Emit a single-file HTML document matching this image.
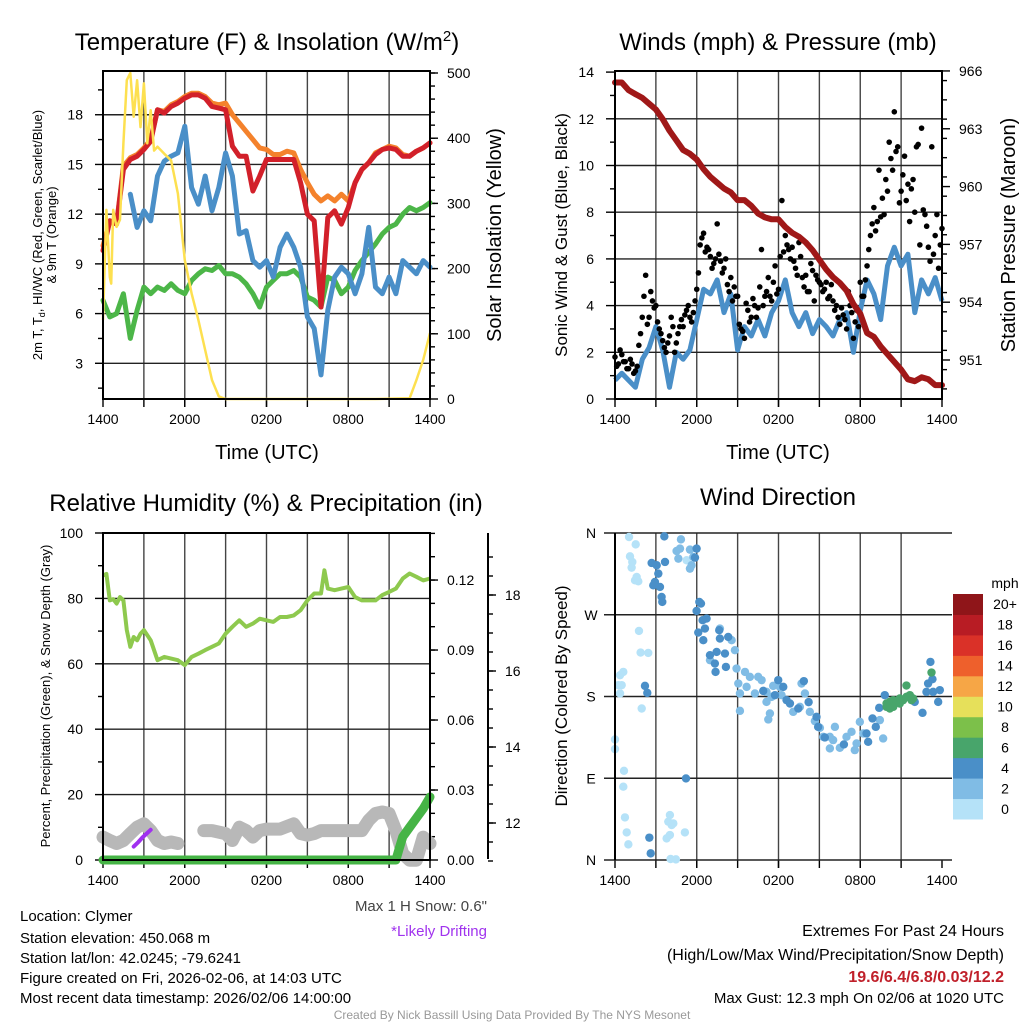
<!DOCTYPE html>
<html><head><meta charset="utf-8"><style>
html,body{margin:0;padding:0;background:#fff}
svg{display:block;font-family:"Liberation Sans",Arial,sans-serif}
</style></head><body>
<svg id="fig" width="1024" height="1024" viewBox="0 0 1024 1024" xmlns="http://www.w3.org/2000/svg">
<rect width="1024" height="1024" fill="#fff"/>
<text x="267" y="50" font-size="24" text-anchor="middle">Temperature (F) &amp; Insolation (W/m<tspan dy="-9" font-size="15">2</tspan><tspan dy="9">)</tspan></text>
<text x="778" y="50" font-size="24" text-anchor="middle">Winds (mph) &amp; Pressure (mb)</text>
<text x="266" y="511" font-size="24" text-anchor="middle">Relative Humidity (%) &amp; Precipitation (in)</text>
<text x="778" y="505" font-size="24" text-anchor="middle">Wind Direction</text>

<text transform="translate(42,235) rotate(-90)" font-size="13" text-anchor="middle">2m T, T<tspan font-size="9" dy="3">d</tspan><tspan dy="-3">, HI/WC (Red, Green, Scarlet/Blue)</tspan></text>
<text transform="translate(56,235) rotate(-90)" font-size="13" text-anchor="middle">&amp; 9m T (Orange)</text>
<text transform="translate(501,235) rotate(-90)" font-size="20" text-anchor="middle">Solar Insolation (Yellow)</text>
<text x="267" y="459" font-size="20" text-anchor="middle">Time (UTC)</text>
<text transform="translate(567,235) rotate(-90)" font-size="17" text-anchor="middle">Sonic Wind &amp; Gust (Blue, Black)</text>
<text transform="translate(1015,235) rotate(-90)" font-size="20" text-anchor="middle">Station Pressure (Maroon)</text>
<text x="778" y="459" font-size="20" text-anchor="middle">Time (UTC)</text>
<text transform="translate(50,696) rotate(-90)" font-size="13" text-anchor="middle">Percent, Precipitation (Green), &amp; Snow Depth (Gray)</text>
<text transform="translate(567,696) rotate(-90)" font-size="17" text-anchor="middle">Direction (Colored By Speed)</text>
<text x="1005" y="588" font-size="14" text-anchor="middle">mph</text>

<g font-size="15">
<text x="20" y="921">Location: Clymer</text>
<text x="20" y="943">Station elevation: 450.068 m</text>
<text x="20" y="963">Station lat/lon: 42.0245; -79.6241</text>
<text x="20" y="983">Figure created on Fri, 2026-02-06, at 14:03 UTC</text>
<text x="20" y="1003">Most recent data timestamp: 2026/02/06 14:00:00</text>
</g>
<text x="487" y="911" font-size="15" text-anchor="end" fill="#444">Max 1 H Snow: 0.6"</text>
<text x="487" y="936" font-size="15" text-anchor="end" fill="#a033ee">*Likely Drifting</text>
<text x="1004" y="936" font-size="16" text-anchor="end">Extremes For Past 24 Hours</text>
<text x="1004" y="960" font-size="16" text-anchor="end">(High/Low/Max Wind/Precipitation/Snow Depth)</text>
<text x="1004" y="982" font-size="16" text-anchor="end" font-weight="bold" fill="#c0202a">19.6/6.4/6.8/0.03/12.2</text>
<text x="1004" y="1003" font-size="15" text-anchor="end">Max Gust: 12.3 mph On 02/06 at 1020 UTC</text>
<text x="512" y="1019" font-size="12" text-anchor="middle" fill="#999">Created By Nick Bassill Using Data Provided By The NYS Mesonet</text>
</svg>
<script>
const timeLabels = ['1400','2000','0200','0800','1400'];
const hours = [0,0.5,1,1.5,2,2.5,3,3.5,4,4.5,5,5.5,6,6.5,7,7.5,8,8.5,9,9.5,10,10.5,11,11.5,12,12.5,13,13.5,14,14.5,15,15.5,16,16.5,17,17.5,18,18.5,19,19.5,20,20.5,21,21.5,22,22.5,23,23.5,24];
const temp2m = [9.8,11.6,11.4,14.7,15.3,15.5,15.9,16.4,18.3,18.1,18.5,18.7,19.0,19.2,19.2,19.0,18.5,18.4,18.3,16.1,15.5,15.5,13.4,14.3,15.3,15.3,15.3,15.3,15.3,13.9,12.0,11.6,6.4,11.8,12.2,11.4,12.4,13.9,14.7,15.1,15.6,15.9,16.0,15.9,15.5,15.5,15.8,16.0,16.3];
const temp9m = [10.1,11.6,11.4,14.9,15.4,15.6,16.0,16.5,18.3,18.2,18.6,18.8,19.1,19.3,19.3,19.1,18.7,18.6,18.7,18.0,17.5,17.0,16.5,16.0,15.9,15.6,15.6,15.8,15.7,14.7,13.9,13.2,12.8,13.1,12.8,13.2,12.8,13.9,14.7,15.1,15.7,15.9,16.1,16.0,15.6,15.5,15.8,16.0,16.3];
const windChill = [null,null,null,null,13.2,11.2,12.2,11.6,14.3,15.2,15.5,15.7,17.3,13.6,12.6,14.3,12.2,13.6,15.7,14.3,10.8,11.0,9.2,8.8,9.2,8.2,10.0,10.8,10.0,8.8,5.8,5.1,2.3,6.2,8.2,8.8,8.4,7.2,8.4,11.2,7.6,7.2,8.2,7.2,9.2,8.8,8.4,9.2,8.8];
const dewpoint = [6.8,5.8,6.0,7.2,4.5,6.2,7.6,7.2,7.6,7.4,7.8,7.4,7.2,8.0,8.4,8.7,8.6,8.9,8.4,8.4,8.2,7.8,7.2,6.4,7.6,8.0,8.4,8.4,8.6,8.2,7.0,6.8,6.4,8.2,8.0,7.2,7.6,8.6,9.2,9.7,10.2,10.8,11.2,11.4,12.0,12.4,12.2,12.4,12.7];
const solarT = [0,0.25,0.5,0.6,0.75,1,1.25,1.5,1.75,2,2.25,2.5,2.75,3,3.25,3.5,3.75,4,4.5,5,5.5,6,6.5,7,7.5,8,8.5,9,12,16,20,22.5,23,23.5,24];
const solarV = [121,290,187,177,290,264,275,392,489,500,433,489,417,484,392,443,381,387,376,366,315,213,162,121,75,29,4,0,0,0,0,1,29,60,101];
const tempTicks = [3,6,9,12,15,18];
const solarTicks = [0,100,200,300,400,500];

const pressure = [965.4,965.4,965.0,964.8,964.6,964.3,964.0,963.5,962.9,962.4,961.9,961.7,961.4,960.9,960.5,960.2,959.9,959.7,959.3,959.3,959.0,958.6,958.4,958.3,958.3,957.9,957.6,957.4,957.1,956.7,956.2,955.7,955.3,955.0,954.6,953.9,953.4,952.4,952.2,951.7,951.3,950.9,950.5,950.0,949.9,950.1,950.0,949.7,949.7];
const sonicWind = [0.8,1.1,0.8,0.5,1.7,2.2,3.1,2.1,0.5,2.0,1.7,2.1,3.4,4.7,4.5,5.1,3.7,4.5,2.1,3.1,2.7,3.4,2.7,3.7,4.2,5.1,3.7,3.1,3.7,2.8,3.4,3.1,2.7,3.4,3.7,2.0,3.8,5.1,4.5,3.4,5.7,6.5,5.7,6.2,3.7,5.1,4.5,5.2,4.2];
const gustA = [1.8,1.5,1.9,1.6,1.3,1.5,1.2,2.3,3.5,5.3,3.5,4.2,4.0,3.0,2.5,2.0,2.7,3.1,2.4,3.1,3.1,3.8,3.5,3.7,4.7,6.6,7.1,6.5,6.1,5.8,7.5,5.9,5.6,4.9,5.2,4.8,4.4,3.0,2.6,3.8,3.5,4.0,3.9,6.4,4.4,5.2,4.2,5.7,4.7,8.5,7.0,6.4,6.5,5.6,6.7,5.2,5.3,4.6,5.5,5.3,5.0,4.6,5.0,4.4,4.2,4.0,3.2,3.6,3.0,4.0,2.6,3.8,5.0,4.4,5.7,7.0,8.2,7.6,7.8,7.9,8.9,10.3,12.3,10.8,8.9,10.4,9.2,9.0,8.0,10.9,11.6,7.9,6.5,10.8,7.0,5.6,7.3];
const gustB = [1.4,2.1,1.6,1.3,1.7,1.1,1.4,2.8,4.4,3.2,4.6,3.9,3.3,2.8,2.2,2.4,3.5,2.0,2.8,3.4,3.6,4.0,3.3,4.2,5.4,6.9,6.3,6.4,5.6,6.0,6.2,5.4,6.0,4.6,4.2,4.4,3.2,2.9,4.1,3.3,4.3,3.5,4.8,4.0,4.6,4.4,5.0,4.5,6.1,6.3,6.6,6.0,5.9,5.3,6.1,4.8,4.6,5.8,4.2,5.1,4.9,4.7,4.3,4.9,3.8,3.5,3.9,3.4,4.6,3.7,3.3,3.1,4.4,5.1,6.4,7.5,7.2,9.8,8.6,9.4,11.0,9.8,10.6,8.4,9.6,8.5,7.6,9.4,10.8,6.6,8.1,7.4,5.9,6.2,7.9,6.6];
const windTicks = [0,2,4,6,8,10,12,14];
const pressTicks = [951,954,957,960,963,966];

const rhT = [0,0.25,0.5,0.75,1,1.25,1.5,1.75,2,2.25,2.5,2.75,3,3.5,4,4.5,5,5.5,6,6.5,7,7.5,8,8.5,9,9.5,10,10.5,11,11.5,12,12.5,13,13.5,14,14.5,15,15.5,16,16.25,16.5,17,17.5,18,18.5,19,19.5,20,20.5,21,21.5,22,22.5,23,23.5,24];
const rhV = [87.0,87.5,79.4,79.8,78.4,80.4,79.4,70.3,65.2,68.2,67.2,69.2,70.3,67.2,61.1,62.1,61.6,61.1,59.6,62.1,63.1,64.2,65.2,66.2,69.2,71.3,73.3,71.3,72.3,73.8,73.3,72.8,74.3,74.3,74.8,76.4,79.4,81.5,81.5,88.6,83.0,82.5,83.0,83.5,80.4,79.4,79.4,79.4,81.0,82.0,83.0,86.1,87.6,86.6,85.5,86.1];
const precipT = [0,21.5,21.75,22,22.5,23,23.5,24];
const precipV = [0,0,0.005,0.01,0.014,0.018,0.022,0.027];
const snowT = [0,0.5,1,1.5,2,2.5,3,3.5,4,4.5,5,5.5,5.7,7.4,8,9,9.5,10,10.5,11,11.5,12,13,14,14.5,15,15.5,16,17,18,19,19.5,20,20.5,21,21.5,22,22.5,23,23.5,24];
const snowV = [11.63,11.54,11.46,11.54,11.72,11.89,11.98,11.8,11.54,11.46,11.5,11.46,null,11.8,11.8,11.72,11.54,11.89,11.8,11.63,11.8,11.84,11.84,11.98,11.72,11.68,11.72,11.8,11.8,11.8,11.8,12.07,12.25,12.29,12.25,11.8,11.19,11.02,11.02,11.63,11.46];
const driftT = [2.25,2.6,2.9,3.2,3.5];
const driftV = [11.38,11.5,11.62,11.72,11.82];
const rhTicks = [0,20,40,60,80,100];
const precipTicks = ['0.00','0.03','0.06','0.09','0.12'];
const snowTicks = [12,14,16,18];

const windT = [1.03,1.52,1.10,1.27,1.22,1.59,1.47,1.71,1.76,1.88,2.44,0.61,0.37,0.24,0.49,0.37,1.96,0,0,0.66,0.61,0.73,0.86,0.98,4.03,3.91,4.28,4.16,4.03,3.79,5.13,4.08,4.47,5.26,
4.84,4.77,5.50,4.65,5.62,5.75,5.50,4.52,6.97,7.70,8.56,8.80,8.92,9.05,9.17,9.54,9.90,9.66,10.27,10.51,10.76,11.12,11.12,11.37,11.25,11.61,11.49,12.10,12.22,13.08,13.57,13.69,13.94,14.30,14.67,15.04,15.28,15.77,16.14,16.01,16.50,16.99,17.36,17.73,17.60,17.97,18.22,19.68,19.44,15.77,9.17,
3.62,2.69,3.06,3.67,3.18,2.93,2.81,3.30,3.42,3.47,5.99,5.87,6.19,6.31,5.99,6.43,6.72,6.60,6.11,6.48,7.65,7.70,8.31,6.97,7.46,7.33,8.07,8.14,7.38,2.52,2.62,2.20,2.37,5.21,10.88,11.98,12.35,11.74,12.59,12.84,13.45,13.86,14.21,14.79,14.91,15.40,16.80,18.46,18.58,18.90,19.14,19.39,19.80,23.15,22.98,23.30,22.86,23.35,23.84,23.72,22.57,22.00,
19.93,20.17,20.42,20.66,20.90,21.15,21.39,21.64,21.88,20.42,19.93,21.39,23.23,20.90,20.17,21.76];
const windD = [355.6,347.5,334.3,328.1,321.9,311.6,307.9,306.8,252.2,228.4,228.0,207.1,203.5,192.5,192.5,183.3,166.8,132.7,122.1,98.2,80.7,46.9,30.4,17.2,49.5,42.2,40.3,38.5,27.5,23.8,30.4,1.1,0.7,330,
353,342.8,341.7,331.8,324.5,333.6,320.8,340.2,220,254.8,242,231,210.8,194.3,183.3,207.1,201.6,190.6,183.3,201.6,198,185.1,174.1,161.3,154.7,191.7,179.6,190.6,181.5,163.1,168.6,194.3,183.3,163.1,152.9,145.5,135.6,135.6,146.6,132,123.5,135.6,141.1,128.3,121,152.1,139.3,133.8,154,122.8,164.2,
356.3,327,324.5,328.1,315.3,306.1,302.4,300.6,289.6,284.1,342.8,332.9,284.1,282.3,274.2,264,265.8,254.8,250.4,242,253,243.8,245.6,225.5,229.1,216.3,227.3,212.6,207.1,24.6,7.3,191.7,184,89.8,186.2,198,190.6,181.5,176,172.3,166.8,196.9,173.8,157.6,146.6,134.9,127.2,139.3,130.1,155.8,146.6,167.5,181.5,218.1,194.3,199.1,185.1,185.1,187,174.1,162,174.1,
168.6,174.1,176,174.1,177.8,176,179.6,181.5,177.8,168.6,172.3,192.1,206.4,172.3,166.8,176];
const dirLabels = ['N','E','S','W','N'];
const speedLabels = ['0','2','4','6','8','10','12','14','16','18','20+'];
const speedColors = ['#b5e2f8','#80bce5','#4a8fc8','#48a56b','#7cc04a','#e6e05a','#f6a646','#ee602c','#da3128','#b81c24','#8f1519'];

const windS = [];
for (let i = 0; i < windT.length; i++) { windS.push(i < 34 ? 1 : i < 85 ? 3 : i < 147 ? 5 : 7); }

const svg = document.getElementById('fig');
const NS = 'http://www.w3.org/2000/svg';
function mk(tag, attrs, parent) {
  const e = document.createElementNS(NS, tag);
  for (const k in attrs) e.setAttribute(k, attrs[k]);
  (parent || svg).appendChild(e);
  return e;
}
function pathD(xs, ys, fx, fy) {
  let d = '', pen = false;
  for (let i = 0; i < xs.length; i++) {
    if (ys[i] === null || ys[i] === undefined) { pen = false; continue; }
    d += (pen ? 'L' : 'M') + fx(xs[i]).toFixed(1) + ',' + fy(ys[i]).toFixed(1);
    pen = true;
  }
  return d;
}

const xA = h => 103 + h * (327 / 24);
const xB = h => 615 + h * (327 / 24);
const yT = v => 413 - v * 16.57;
const yS = w => 399 - w * 0.652;
const yW = v => 399 - v * 23.35;
const yP = p => 360 - (p - 951) * 19.27;
const yRH = v => 860 - v * 3.27;
const yPr = p => 860 - p * 2333;
const ySn = s => 823 - (s - 12) * 38;
const yD = d => 860 - d * 0.9083;

function frame(x0, x1, y0, y1, name) {
  const g = mk('g', {});
  
  
  for (let k = 1; k < 8; k++) {
    const x = x0 + k * (x1 - x0) / 8;
    const l = mk('line', {x1: x, x2: x, y1: y0, y2: y1, stroke: '#444', 'stroke-width': 1.4}, g);
    
    
    const t = mk('line', {x1: x, x2: x, y1: y1, y2: y1 + 8, stroke: '#000', 'stroke-width': 1.4}, g);
    
    
  }
  for (let k = 0; k < 5; k++) {
    const x = x0 + k * (x1 - x0) / 4;
    const t = mk('line', {x1: x, x2: x, y1: y1, y2: y1 + 8, stroke: '#000', 'stroke-width': 1.4}, g);
    
    
    const tx = mk('text', {x: x, y: y1 + 25, 'font-size': 14, 'text-anchor': 'middle'}, g);
    tx.textContent = timeLabels[k];
    
    
  }
  return g;
}
function border(x0, x1, y0, y1, name) {
  const r = mk('rect', {x: x0, y: y0, width: x1 - x0, height: y1 - y0, fill: 'none', stroke: '#000', 'stroke-width': 2});
  
  
}
function hgrid(y, x0, x1) {
  const l = mk('line', {x1: x0, x2: x1, y1: y, y2: y, stroke: '#222', 'stroke-width': 1.4});
  
  
}
function tick(x, y, len, label, anchor, name) {
  const l = mk('line', {x1: x, x2: x + len, y1: y, y2: y, stroke: '#000', 'stroke-width': 1.4});
  
  
  if (label !== null) {
    const t = mk('text', {x: anchor === 'end' ? x + len - 12 : x + len + 9, y: y + 5, 'font-size': 14, 'text-anchor': anchor});
    t.textContent = label;
    
    
  }
}

// ===== Panel 1 =====
frame(103, 430, 71, 399, 'temp-grid');
for (const v of tempTicks) { hgrid(yT(v), 103, 430); tick(103, yT(v), -8, String(v), 'end', 'temp-y'); }
for (let v = 1.5; v < 20.6; v += 3) tick(103, yT(v), -5, null, 'end', 'temp-y-minor');
for (const w of solarTicks) tick(430, yS(w), 8, String(w), 'start', 'solar-y');
for (let w = 20; w < 510; w += 20) tick(430, yS(w), 5, null, 'start', 'solar-y-minor');
let p;
p = mk('path', {d: pathD(hours, dewpoint, xA, yT), fill: 'none', stroke: '#4cb648', 'stroke-width': 5, 'stroke-linejoin': 'round', 'stroke-linecap': 'round'});


p = mk('path', {d: pathD(hours, temp9m, xA, yT), fill: 'none', stroke: '#f4822c', 'stroke-width': 5, 'stroke-linejoin': 'round', 'stroke-linecap': 'round'});


p = mk('path', {d: pathD(hours, temp2m, xA, yT), fill: 'none', stroke: '#d2202a', 'stroke-width': 5, 'stroke-linejoin': 'round', 'stroke-linecap': 'round'});


p = mk('path', {d: pathD(hours, windChill, xA, yT), fill: 'none', stroke: '#4a8fc8', 'stroke-width': 5, 'stroke-linejoin': 'round', 'stroke-linecap': 'round'});


p = mk('path', {d: pathD(solarT, solarV, xA, yS), fill: 'none', stroke: '#fde050', 'stroke-width': 2.5, 'stroke-linejoin': 'round'});


border(103, 430, 71, 399, 'temp-plot-border');

// ===== Panel 2 =====
frame(615, 942, 71, 399, 'wind-grid');
for (const v of windTicks) { if (v > 0 && v < 14) hgrid(yW(v), 615, 942); tick(615, yW(v), -9, String(v), 'end', 'wind-y'); }
for (let v = 1; v < 14; v += 2) tick(615, yW(v), -5, null, 'end', 'wind-y-minor');
for (const pp of pressTicks) tick(942, yP(pp), 8, String(pp), 'start', 'pressure-y');
for (let pp = 949.5; pp < 966; pp += 1) tick(942, yP(pp), 5, null, 'start', 'pressure-y-minor');
p = mk('path', {d: pathD(hours, sonicWind, xB, yW), fill: 'none', stroke: '#4a8fc8', 'stroke-width': 5, 'stroke-linejoin': 'round'});


const gustG = mk('g', {fill: '#000'});


for (let i = 0; i < gustA.length; i++) {
  const c = mk('circle', {cx: xB(i * 0.25), cy: yW(gustA[i]), r: 2.8}, gustG);
  
  
}
for (let i = 0; i < gustB.length; i++) {
  const c = mk('circle', {cx: xB(0.125 + i * 0.25), cy: yW(gustB[i]), r: 2.8}, gustG);
  
  
}
p = mk('path', {d: pathD(hours, pressure, xB, yP), fill: 'none', stroke: '#a01818', 'stroke-width': 6, 'stroke-linejoin': 'round', 'stroke-linecap': 'round'});


border(615, 942, 71, 399, 'wind-plot-border');

// ===== Panel 3 =====
frame(103, 430, 533, 860, 'humidity-grid');
for (const v of rhTicks) { if (v > 0 && v < 100) hgrid(yRH(v), 103, 430); tick(103, yRH(v), -8, String(v), 'end', 'rh-y'); }
for (let v = 10; v < 100; v += 20) tick(103, yRH(v), -5, null, 'end', 'rh-y-minor');
for (const s of precipTicks) tick(430, yPr(parseFloat(s)), 8, s, 'start', 'precip-y');
for (let q = 0.01; q < 0.14; q += 0.01) tick(430, yPr(q), 5, null, 'start', 'precip-y-minor');
p = mk('line', {x1: 488, x2: 488, y1: 533, y2: 859, stroke: '#000', 'stroke-width': 2});


for (const s of snowTicks) tick(488, ySn(s), 8, String(s), 'start', 'snow-y');
for (let s = 11; s < 19.5; s += 0.5) tick(488, ySn(s), 5, null, 'start', 'snow-y-minor');
p = mk('path', {d: pathD(snowT, snowV, xA, ySn), fill: 'none', stroke: '#b8b8b8', 'stroke-width': 13, 'stroke-linejoin': 'round', 'stroke-linecap': 'round'});


p = mk('path', {d: pathD(driftT, driftV, xA, ySn), fill: 'none', stroke: '#a030f0', 'stroke-width': 4, 'stroke-linecap': 'round'});


p = mk('path', {d: pathD(precipT, precipV, xA, yPr), fill: 'none', stroke: '#46b446', 'stroke-width': 9, 'stroke-linejoin': 'round', 'stroke-linecap': 'round'});


p = mk('path', {d: pathD(rhT, rhV, xA, yRH), fill: 'none', stroke: '#8ec94e', 'stroke-width': 4, 'stroke-linejoin': 'round'});


border(103, 430, 533, 860, 'humidity-plot-border');

// ===== Panel 4 =====
frame(615, 942, 533, 860, 'direction-grid');
for (let k = 0; k < 5; k++) {
  const d = k * 90;
  const l = mk('line', {x1: 604, x2: 952, y1: yD(d), y2: yD(d), stroke: '#222', 'stroke-width': 1.4});
  
  
  const t = mk('text', {x: 591, y: yD(d) + 5, 'font-size': 14, 'text-anchor': 'middle'});
  t.textContent = dirLabels[k];
  
  
}
const dirG = mk('g', {});


for (let i = 0; i < windT.length; i++) {
  const c = mk('circle', {cx: xB(windT[i]), cy: yD(windD[i]), r: 4.2, fill: speedColors[Math.min(10, Math.floor(windS[i] / 2))]}, dirG);
  
  
}
const lineL = mk('line', {x1: 615, x2: 615, y1: 533, y2: 860, stroke: '#000', 'stroke-width': 2});


const cbG = mk('g', {});


const cbH = (819 - 594) / 11;
for (let i = 0; i < speedColors.length; i++) {
  const y = 819 - (i + 1) * cbH;
  const r = mk('rect', {x: 953, y: y, width: 30, height: cbH + 0.5, fill: speedColors[i]}, cbG);
  
  
  const t = mk('text', {x: 1005, y: y + cbH / 2 + 5, 'font-size': 14, 'text-anchor': 'middle'}, cbG);
  t.textContent = speedLabels[i];
  
  
}
</script>
</body></html>
